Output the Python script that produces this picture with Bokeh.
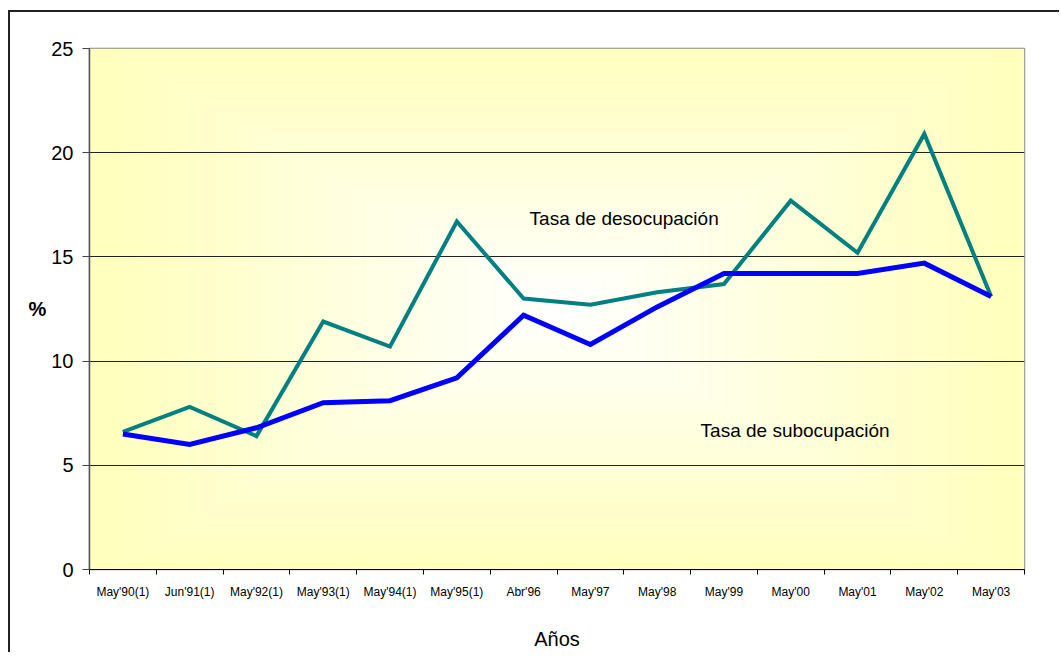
import numpy as np
from bokeh.plotting import figure
from bokeh.models import FixedTicker, Label, Range1d
from bokeh.embed import file_html
from bokeh.resources import INLINE

# ---- data -------------------------------------------------------------
categories = ["May'90(1)", "Jun'91(1)", "May'92(1)", "May'93(1)", "May'94(1)",
              "May'95(1)", "Abr'96", "May'97", "May'98", "May'99", "May'00",
              "May'01", "May'02", "May'03"]
desocupacion = [6.6, 7.8, 6.4, 11.9, 10.7, 16.7, 13.0, 12.7, 13.3, 13.7,
                17.7, 15.2, 20.9, 13.1]
subocupacion = [6.5, 6.0, 6.8, 8.0, 8.1, 9.2, 12.2, 10.8, 12.6, 14.2,
                14.2, 14.2, 14.7, 13.1]
y_ticks = [0, 5, 10, 15, 20, 25]
x_title = "Años"
y_title = "%"
label_desocupacion = "Tasa de desocupación"
label_subocupacion = "Tasa de subocupación"

FONT = "Liberation Sans"
n = len(categories)
xs = list(range(n))

p = figure(frame_width=935, frame_height=521,
           min_border_left=79, min_border_right=35,
           min_border_top=36, min_border_bottom=80,
           x_range=Range1d(-0.5, n - 0.5), y_range=Range1d(0, 25),
           output_backend="svg", toolbar_location=None,
           background_fill_color="#FFFFC4", border_fill_color="white")
p.styles = {"border-left": "2px solid #222", "border-top": "2px solid #222",
            "margin-left": "8px", "margin-top": "10px"}

# gradient background (from centre: white -> pale yellow)
nx, ny = 400, 220
u = np.linspace(-1, 1, nx)[None, :]
v = np.linspace(-1, 1, ny)[:, None]
t = np.clip(np.maximum(np.abs(u) * 1.05, np.abs(v) * 1.0), 0, 1)
edge = np.array([255, 255, 190])
centre = np.array([255, 255, 255])
rgb = centre[None, None, :] * (1 - t[..., None]) + edge[None, None, :] * t[..., None]
img = np.empty((ny, nx), dtype=np.uint32)
view = img.view(dtype=np.uint8).reshape((ny, nx, 4))
view[..., 0] = rgb[..., 0].astype(np.uint8)
view[..., 1] = rgb[..., 1].astype(np.uint8)
view[..., 2] = rgb[..., 2].astype(np.uint8)
view[..., 3] = 255
p.image_rgba(image=[img], x=-0.5, y=0, dw=n, dh=25, level="image")

# lines
p.line(xs, desocupacion, line_color="#008080", line_width=4, line_join="miter")
p.line(xs, subocupacion, line_color="#0000FF", line_width=5, line_join="miter")

# axes
p.xaxis.ticker = FixedTicker(ticks=xs, minor_ticks=[i - 0.5 for i in range(n + 1)])
p.xaxis.major_label_overrides = {i: c for i, c in enumerate(categories)}
p.xaxis.major_tick_out = 0
p.xaxis.major_tick_in = 0
p.xaxis.minor_tick_out = 5
p.xaxis.minor_tick_in = 0
p.xaxis.minor_tick_line_color = "black"
p.xaxis.axis_line_color = "black"
p.xaxis.major_label_text_font = FONT
p.xaxis.major_label_text_font_size = "12px"
p.xaxis.major_label_text_color = "black"
p.xaxis.major_label_standoff = 10
p.xaxis.axis_label = x_title
p.xaxis.axis_label_text_font = FONT
p.xaxis.axis_label_text_font_size = "20px"
p.xaxis.axis_label_text_font_style = "normal"
p.xaxis.axis_label_text_color = "black"
p.xaxis.axis_label_standoff = 26

p.yaxis.ticker = FixedTicker(ticks=y_ticks)
p.yaxis.minor_tick_line_color = None
p.yaxis.major_tick_out = 7
p.yaxis.major_tick_in = 0
p.yaxis.major_tick_line_color = "#444"
p.yaxis.axis_line_color = "#555"
p.yaxis.axis_line_width = 1.5
p.yaxis.major_label_text_font = FONT
p.yaxis.major_label_text_font_size = "20px"
p.yaxis.major_label_text_color = "black"
p.yaxis.major_label_standoff = 9

p.yaxis.axis_label_orientation = "horizontal"
p.yaxis.axis_label = y_title
p.yaxis.axis_label_text_font = FONT
p.yaxis.axis_label_text_font_size = "20px"
p.yaxis.axis_label_text_font_style = "bold"
p.yaxis.axis_label_text_color = "black"
p.yaxis.axis_label_standoff = 2

p.xgrid.grid_line_color = None
p.ygrid.ticker = FixedTicker(ticks=y_ticks)
p.ygrid.grid_line_color = "#222"
p.ygrid.grid_line_width = 1
p.outline_line_color = "#888"
p.outline_line_width = 1.5

# text labels
p.add_layout(Label(x=6.09, y=16.85, text=label_desocupacion, text_font=FONT,
                   text_font_size="19px", text_align="left",
                   text_baseline="middle", text_color="black"))
p.add_layout(Label(x=8.65, y=6.67, text=label_subocupacion, text_font=FONT,
                   text_font_size="19px", text_align="left",
                   text_baseline="middle", text_color="black"))

open("out.html", "w").write(file_html(p, INLINE))
